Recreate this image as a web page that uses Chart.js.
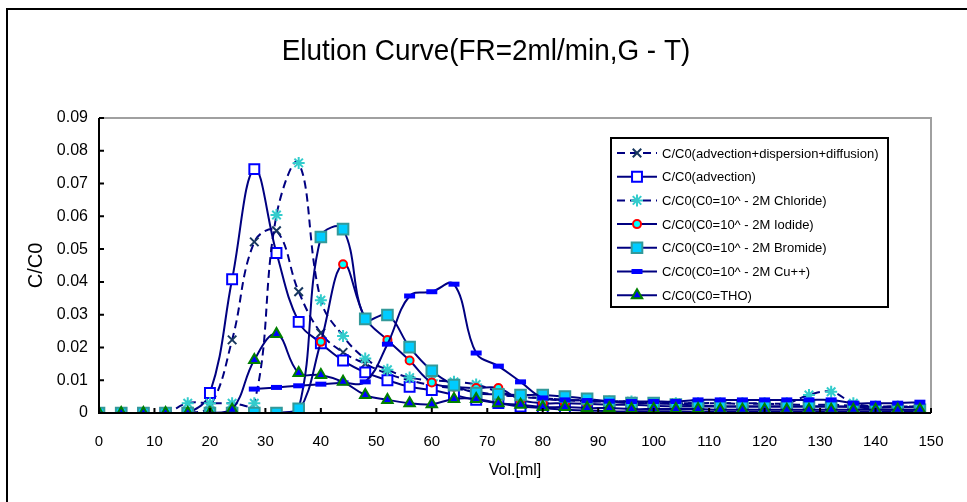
<!DOCTYPE html>
<html>
<head>
<meta charset="utf-8">
<script src="https://cdn.jsdelivr.net/npm/chart.js@4.4.1/dist/chart.umd.min.js"></script>
<style>
    body { margin: 0; background: #fff; }
    #wrap { position: relative; width: 967px; height: 502px; overflow: hidden; }
    #frame { position: absolute; left: 6px; top: 8px; width: 980px; height: 520px; border: 2px solid #000; pointer-events: none; }
    canvas { position: absolute; left: 0; top: 0; }
</style>
</head>
<body>
<div id="wrap">
    <canvas id="grafico" width="967" height="502"></canvas>
    <div id="frame"></div>
</div>
<script>
// volume (ml) of each sample
const volumes = [0, 4, 8, 12, 16, 20, 24, 28, 32, 36, 40, 44, 48, 52, 56, 60, 64, 68, 72, 76,
    80, 84, 88, 92, 96, 100, 104, 108, 112, 116, 120, 124, 128, 132, 136, 140, 144, 148];

const advDispDiff = [0, 0, 0, 0, 0, 0.002, 0.0223, 0.0522, 0.0556, 0.037, 0.0244, 0.0185, 0.015, 0.012, 0.010, 0.0085, 0.0075, 0.0065, 0.0055, 0.005,
    0.0045, 0.004, 0.0038, 0.0035, 0.0035, 0.0032, 0.003, 0.003, 0.003, 0.0028, 0.0028, 0.0026, 0.0025, 0.0025, 0.0022, 0.002, 0.002, 0.002];
const advection = [0, 0, 0, 0, 0, 0.0061, 0.0408, 0.0744, 0.0488, 0.0278, 0.0213, 0.016, 0.0124, 0.010, 0.008, 0.007, 0.0055, 0.004, 0.003, 0.002,
    0.0015, 0.001, 0.0008, 0.0005, 0.0005, 0.0005, 0.0005, 0.0004, 0.0004, 0.0004, 0.0004, 0.0004, 0.0004, 0.0004, 0.0004, 0.0004, 0.0004, 0.0004];
const chloride = [0, 0, 0, 0, 0.003, 0.003, 0.003, 0.003, 0.0604, 0.0763, 0.0344, 0.0235, 0.0166, 0.0132, 0.0108, 0.010, 0.0095, 0.0087, 0.0065, 0.005,
    0.0045, 0.004, 0.0035, 0.0035, 0.0035, 0.003, 0.003, 0.003, 0.003, 0.003, 0.003, 0.003, 0.0055, 0.0065, 0.003, 0.002, 0.002, 0.002];
const iodide = [0, 0, 0, 0, 0, 0, 0, 0, 0, 0.0005, 0.0217, 0.0454, 0.029, 0.0223, 0.016, 0.0093, 0.008, 0.0076, 0.0076, 0.004,
    0.003, 0.003, 0.0028, 0.0025, 0.0025, 0.0022, 0.002, 0.002, 0.002, 0.002, 0.002, 0.002, 0.002, 0.002, 0.002, 0.0018, 0.0018, 0.0018];
const bromide = [0, 0, 0, 0, 0, 0, 0, 0, 0, 0.0013, 0.0537, 0.0561, 0.0287, 0.0299, 0.0201, 0.0129, 0.0085, 0.0061, 0.0057, 0.0055,
    0.0055, 0.005, 0.0043, 0.0035, 0.003, 0.003, 0.0026, 0.0023, 0.002, 0.002, 0.002, 0.002, 0.002, 0.002, 0.0018, 0.0012, 0.001, 0.001];
const copper = [null, null, null, null, null, null, null, 0.0073, 0.0078, 0.0083, 0.0088, 0.0092, 0.0095, 0.021, 0.0357, 0.037, 0.0393, 0.0183, 0.0143, 0.0095,
    0.0046, 0.004, 0.0038, 0.0036, 0.0035, 0.0035, 0.0035, 0.004, 0.004, 0.004, 0.004, 0.004, 0.004, 0.004, 0.003, 0.003, 0.003, 0.0033];
const tho = [0, 0, 0, 0, 0, 0, 0.001, 0.0162, 0.0241, 0.0122, 0.0116, 0.0095, 0.0055, 0.004, 0.003, 0.0027, 0.0043, 0.0043, 0.003, 0.0025,
    0.0018, 0.0018, 0.0015, 0.0015, 0.0012, 0.0012, 0.0012, 0.0012, 0.001, 0.001, 0.001, 0.001, 0.001, 0.001, 0.001, 0.001, 0.001, 0.001];

const xTicks = [0, 10, 20, 30, 40, 50, 60, 70, 80, 90, 100, 110, 120, 130, 140, 150];
const yTicks = [0, 0.01, 0.02, 0.03, 0.04, 0.05, 0.06, 0.07, 0.08, 0.09];

const titulo = 'Elution Curve(FR=2ml/min,G - T)';
const seriesNames = [
    'C/C0(advection+dispersion+diffusion)',
    'C/C0(advection)',
    'C/C0(C0=10^ - 2M Chloride)',
    'C/C0(C0=10^ - 2M Iodide)',
    'C/C0(C0=10^ - 2M Bromide)',
    'C/C0(C0=10^ - 2M Cu++)',
    'C/C0(C0=THO)'
];

function pontos(valores) {
    return volumes.map(function (v, i) { return { x: v, y: valores[i] }; });
}

const linha = '#000080';
const fonte = "'Liberation Sans', Arial, sans-serif";

function serie(idx, valores, estilo) {
    return Object.assign({
        label: seriesNames[idx],
        data: pontos(valores),
        borderColor: linha,
        borderWidth: 2,
        tension: 0.4,
        fill: false,
        spanGaps: false,
        order: 10 - idx
    }, estilo);
}

const datasets = [
    serie(0, advDispDiff, { borderDash: [8, 5], pointStyle: 'crossRot', pointRadius: 6, pointBorderWidth: 2, pointBorderColor: '#17375E', pointBackgroundColor: '#17375E' }),
    serie(1, advection, { pointStyle: 'rect', pointRadius: 7, pointBorderWidth: 2, pointBorderColor: '#0000FF', pointBackgroundColor: '#FFFFFF' }),
    serie(2, chloride, { borderDash: [8, 5], pointStyle: 'star', pointRadius: 6, pointBorderWidth: 2, pointBorderColor: '#33CCCC', pointBackgroundColor: '#33CCCC' }),
    serie(3, iodide, { pointStyle: 'circle', pointRadius: 4, pointBorderWidth: 2, pointBorderColor: '#FF0000', pointBackgroundColor: '#00FFFF' }),
    serie(4, bromide, { pointStyle: 'rect', pointRadius: 7.5, pointBorderWidth: 2, pointBorderColor: '#339999', pointBackgroundColor: '#00CCFF' }),
    serie(5, copper, { pointStyle: 'line', pointRadius: 5.5, pointBorderWidth: 5, pointBorderColor: '#0000FF', pointBackgroundColor: '#0000FF' }),
    serie(6, tho, { pointStyle: 'triangle', pointRadius: 6, pointBorderWidth: 2, pointBorderColor: '#008000', pointBackgroundColor: '#0000FF' })
];

// title, plot frame (grey top/right), inside tick marks and the boxed legend
const moldura = {
    id: 'moldura',
    beforeDatasetsDraw: function (chart) {
        const a = chart.chartArea, ctx = chart.ctx;
        ctx.save();
        ctx.strokeStyle = '#a0a0a0';
        ctx.lineWidth = 2;
        ctx.beginPath();
        ctx.moveTo(a.left, a.top);
        ctx.lineTo(a.right, a.top);
        ctx.lineTo(a.right, a.bottom);
        ctx.stroke();

        ctx.translate(486, 52);
        ctx.scale(0.93, 1);
        ctx.fillStyle = '#000';
        ctx.font = '30px ' + fonte;
        ctx.textAlign = 'center';
        ctx.textBaseline = 'middle';
        ctx.fillText(titulo, 0, 0);
        ctx.restore();
    },
    afterDraw: function (chart) {
        const a = chart.chartArea, ctx = chart.ctx;
        const sx = chart.scales.x, sy = chart.scales.y;
        ctx.save();
        ctx.strokeStyle = '#000';
        ctx.lineWidth = 2;
        ctx.beginPath();
        ctx.moveTo(a.left, a.top);
        ctx.lineTo(a.left, a.bottom);
        ctx.lineTo(a.right, a.bottom);
        xTicks.forEach(function (t) {
            const px = sx.getPixelForValue(t);
            ctx.moveTo(px, a.bottom);
            ctx.lineTo(px, a.bottom - 5);
        });
        yTicks.forEach(function (t) {
            const py = sy.getPixelForValue(t);
            ctx.moveTo(a.left, py);
            ctx.lineTo(a.left + 5, py);
        });
        ctx.stroke();

        // legend
        const bx = 611, by = 138, bw = 277, bh = 169;
        ctx.fillStyle = '#fff';
        ctx.fillRect(bx, by, bw, bh);
        ctx.strokeStyle = '#000';
        ctx.lineWidth = 2;
        ctx.strokeRect(bx, by, bw, bh);
        ctx.font = '13px ' + fonte;
        ctx.textBaseline = 'middle';
        ctx.textAlign = 'left';
        chart.data.datasets.forEach(function (ds, i) {
            const y = by + 15 + i * 23.7;
            ctx.save();
            ctx.strokeStyle = linha;
            ctx.lineWidth = 2;
            ctx.setLineDash(ds.borderDash || []);
            ctx.beginPath();
            ctx.moveTo(bx + 6, y);
            ctx.lineTo(bx + 46, y);
            ctx.stroke();
            ctx.restore();
            ctx.save();
            ctx.strokeStyle = ds.pointBorderColor;
            ctx.fillStyle = ds.pointBackgroundColor;
            ctx.lineWidth = ds.pointBorderWidth;
            Chart.helpers.drawPoint(ctx, { pointStyle: ds.pointStyle, radius: ds.pointRadius, borderWidth: ds.pointBorderWidth, rotation: 0 }, bx + 26, y);
            ctx.restore();
            ctx.fillStyle = '#000';
            ctx.fillText(ds.label, bx + 51, y + 1);
        });
        ctx.restore();
    }
};

const ctxGrafico = document.getElementById('grafico').getContext('2d');
const grafico = new Chart(ctxGrafico, {
    type: 'line',
    data: { datasets: datasets },
    plugins: [moldura],
    options: {
        responsive: false,
        animation: false,
        layout: { padding: { left: 0, right: 36, top: 118, bottom: 0 } },
        plugins: {
            legend: { display: false },
            tooltip: { enabled: false },
            title: { display: false }
        },
        scales: {
            x: {
                type: 'linear',
                min: 0,
                max: 150,
                afterFit: function (s) { s.height = 89; },
                afterBuildTicks: function (s) { s.ticks = xTicks.map(function (v) { return { value: v }; }); },
                grid: { display: false, drawTicks: false },
                border: { display: false },
                ticks: { color: '#000', padding: 20, maxRotation: 0, autoSkip: false, font: { family: fonte, size: 15 } },
                title: { display: true, text: 'Vol.[ml]', color: '#000', font: { family: fonte, size: 16 }, padding: { top: 22, bottom: 22 } }
            },
            y: {
                min: 0,
                max: 0.09,
                afterFit: function (s) { s.width = 99; },
                afterBuildTicks: function (s) { s.ticks = yTicks.map(function (v) { return { value: v }; }); },
                grid: { display: false, drawTicks: false },
                border: { display: false },
                ticks: {
                    color: '#000', padding: 11, autoSkip: false, font: { family: fonte, size: 16 },
                    callback: function (value) { return value === 0 ? '0' : value.toFixed(2); }
                },
                title: { display: true, text: 'C/C0', color: '#000', font: { family: fonte, size: 20 }, padding: { top: 24, bottom: 24 } }
            }
        }
    }
});
</script>
</body>
</html>
